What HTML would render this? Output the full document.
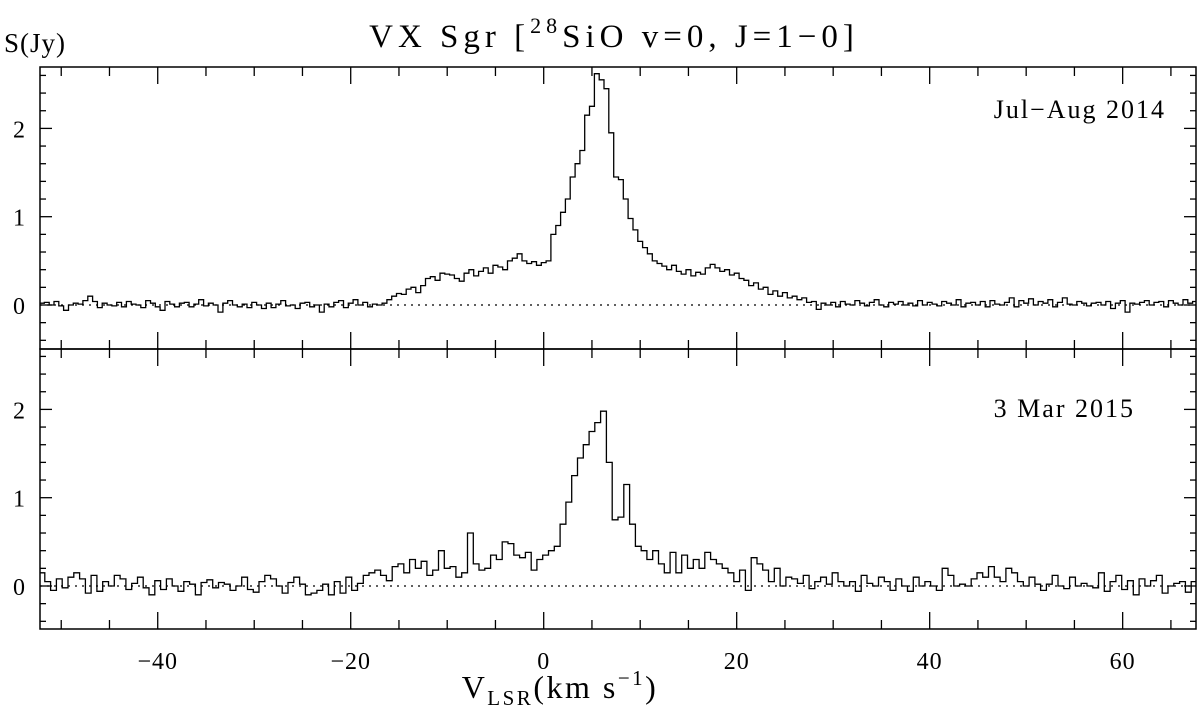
<!DOCTYPE html>
<html><head><meta charset="utf-8"><style>
body{margin:0;background:#fff;}
svg{display:block;font-family:"Liberation Serif","DejaVu Serif",serif;}
</style></head><body>
<svg id="chart" width="1200" height="709" viewBox="0 0 1200 709" xmlns="http://www.w3.org/2000/svg">
<text x="614" y="47" text-anchor="middle" font-size="33" letter-spacing="5">VX  Sgr  [<tspan font-size="22" dy="-14">28</tspan><tspan dy="14">SiO  v=0,  J=1−0]</tspan></text>
<text x="4" y="52" font-size="27" letter-spacing="1">S(Jy)</text>
<text x="560" y="698" text-anchor="middle" font-size="32" letter-spacing="2.5">V<tspan font-size="21" dy="7">LSR</tspan><tspan dy="-7">(km  s</tspan><tspan font-size="21" dy="-13">−1</tspan><tspan dy="13">)</tspan></text>
<text x="1166" y="118" text-anchor="end" font-size="26" letter-spacing="2">Jul−Aug 2014</text>
<text x="1135" y="417" text-anchor="end" font-size="26" letter-spacing="2">3 Mar 2015</text>
<g id="g"></g>
</svg>
<script>
const topStart = -52, topStep = 0.5;
const topValues = [
0.02,0.03,0.0,0.04,-0.01,-0.06,0.0,0.02,0.01,0.05,0.1,0.04,-0.03,0.02,0.0,-0.01,0.03,-0.02,0.04,0.01,
0.0,-0.03,0.05,0.02,-0.02,-0.06,0.04,0.01,-0.02,0.02,0.03,-0.02,0.01,0.06,-0.01,0.02,0.0,-0.08,0.02,0.05,
0.0,-0.02,0.01,-0.03,0.03,0.0,-0.04,0.02,-0.03,0.01,0.05,-0.01,0.0,-0.04,0.02,0.03,-0.02,0.0,-0.08,0.01,
-0.02,0.03,0.05,-0.03,0.02,0.06,0.0,0.03,-0.02,0.01,0.0,0.02,0.06,0.1,0.13,0.12,0.18,0.2,0.14,0.22,
0.3,0.32,0.28,0.36,0.35,0.34,0.3,0.27,0.36,0.4,0.33,0.38,0.42,0.36,0.45,0.43,0.4,0.5,0.53,0.58,
0.5,0.47,0.49,0.45,0.48,0.5,0.8,0.9,1.05,1.2,1.45,1.6,1.75,2.15,2.25,2.62,2.55,2.45,1.95,1.45,
1.42,1.2,0.98,0.85,0.72,0.65,0.58,0.5,0.47,0.44,0.4,0.45,0.38,0.35,0.4,0.33,0.37,0.35,0.42,0.46,
0.42,0.38,0.4,0.34,0.36,0.3,0.28,0.22,0.25,0.18,0.2,0.12,0.16,0.1,0.14,0.08,0.1,0.06,0.08,0.03,
0.04,-0.05,0.02,0.0,0.03,-0.02,0.04,0.01,0.0,0.05,0.02,-0.01,0.03,0.06,0.0,-0.02,0.03,0.01,0.04,0.0,
0.02,-0.01,0.05,0.0,0.03,0.01,-0.01,0.04,0.02,0.0,0.06,-0.02,0.02,0.03,0.0,0.04,-0.02,0.05,0.01,0.0,
0.03,0.08,-0.02,0.05,0.02,0.07,0.0,0.04,0.02,0.06,-0.02,0.03,0.08,0.01,0.0,0.04,0.02,-0.01,0.02,0.03,
0.0,0.04,-0.04,0.02,0.05,-0.08,0.02,0.01,0.03,0.05,0.0,0.03,0.04,-0.02,0.05,0.02,0.0,0.06,0.02,0.04];
const botStart = -52, botStep = 0.6;
const botValues = [
0.15,0.05,-0.05,0.08,-0.02,0.1,0.15,0.08,-0.08,0.12,-0.06,0.05,0.0,0.12,0.08,-0.04,0.03,0.1,-0.02,-0.1,
0.06,-0.04,0.08,0.0,-0.06,0.05,0.02,-0.1,0.04,0.07,-0.02,0.04,0.02,-0.05,0.0,0.1,-0.04,-0.07,0.05,0.12,
0.08,0.0,-0.08,0.04,0.1,0.02,-0.1,-0.08,-0.05,0.02,-0.1,0.05,-0.08,0.1,-0.05,0.03,0.12,0.15,0.18,0.12,
0.06,0.22,0.25,0.15,0.3,0.2,0.28,0.12,0.18,0.4,0.2,0.22,0.1,0.15,0.6,0.25,0.18,0.2,0.35,0.3,
0.5,0.48,0.35,0.32,0.38,0.18,0.3,0.35,0.4,0.45,0.7,0.95,1.25,1.45,1.6,1.75,1.85,1.98,1.4,0.75,
0.78,1.15,0.7,0.45,0.4,0.3,0.4,0.25,0.15,0.38,0.15,0.35,0.2,0.3,0.2,0.38,0.3,0.25,0.2,0.15,
0.05,0.18,-0.05,0.32,0.25,0.18,0.05,0.2,0.0,0.1,0.08,0.03,0.12,-0.03,0.05,0.1,0.02,0.15,0.05,0.0,
0.05,-0.06,0.12,0.03,0.0,0.1,0.05,-0.05,0.08,0.0,-0.06,0.1,0.0,0.05,0.0,-0.05,0.2,0.12,0.0,0.02,
0.0,0.08,0.15,0.1,0.22,0.1,0.05,0.2,0.15,0.05,0.0,0.1,0.02,-0.05,0.02,0.12,0.0,-0.03,0.1,0.0,
0.03,0.0,-0.02,0.15,-0.06,0.05,0.12,-0.04,0.06,-0.1,0.08,0.0,0.06,0.12,-0.08,0.0,0.03,0.05,-0.07,0.05];
const xTickLabels = [-40,-20,0,20,40,60];
const yTickLabels = [0,1,2];

const NS="http://www.w3.org/2000/svg";
const g=document.getElementById('g');
const X0=40,X1=1196,VMIN=-52.2,VMAX=67.6;
function xs(v){return X0+(v-VMIN)/(VMAX-VMIN)*(X1-X0);}
const panels=[{top:67,bot:349,zero:305,name:'top'},{top:349,bot:629,zero:586,name:'bottom'}];
const PPJ=88.3;
function mk(tag,attrs){const e=document.createElementNS(NS,tag);for(const k in attrs)e.setAttribute(k,attrs[k]);g.appendChild(e);return e;}
function line(x1,y1,x2,y2,w){return mk('line',{x1,y1,x2,y2,stroke:'#000','stroke-width':w||1.3});}

panels.forEach(p=>{
  const ys=s=>p.zero-s*PPJ;
  const fr=mk('rect',{x:X0,y:p.top,width:X1-X0,height:p.bot-p.top,fill:'none',stroke:'#000','stroke-width':1.5});
  
  
  for(let v=-50;v<=65;v+=5){
    const x=xs(v),maj=(v%20===0),L=maj?17:9;
    line(x,p.top,x,p.top+L);line(x,p.bot,x,p.bot-L);
  }
  for(let k=-2;k<=13;k++){
    const s=k*0.2,y=ys(s);
    if(y<p.top+1||y>p.bot-1)continue;
    const maj=(k%5===0),L=maj?12:6;
    line(X0,y,X0+L,y);line(X1,y,X1-L,y);
  }
  yTickLabels.forEach(t=>{
    const tx=mk('text',{x:19,y:ys(t)+9,'font-size':24,'text-anchor':'middle'});
    tx.textContent=t;
    
    
  });
  const zl=line(X0,ys(0),X1,ys(0),1.2);
  zl.setAttribute('stroke-dasharray','2,5');
  
  
  const vals=p.name==='top'?topValues:botValues;
  const st=p.name==='top'?topStart:botStart, sp=p.name==='top'?topStep:botStep;
  let d='';
  vals.forEach((s,i)=>{
    const v=st+i*sp;
    const xa=Math.max(X0,xs(v-sp/2)),xb=Math.min(X1,xs(v+sp/2));
    if(xb<=X0||xa>=X1)return;
    const y=ys(s).toFixed(1);
    d+=(d?'L':'M')+xa.toFixed(1)+','+y+'L'+xb.toFixed(1)+','+y;
  });
  const path=mk('path',{d:d,fill:'none',stroke:'#000','stroke-width':1.3});
  
  
});
xTickLabels.forEach(v=>{
  const tx=mk('text',{x:xs(v),y:669,'font-size':24,'text-anchor':'middle','letter-spacing':1});
  tx.textContent=v<0?'−'+Math.abs(v):v;
  
  
});
</script>
</body></html>
